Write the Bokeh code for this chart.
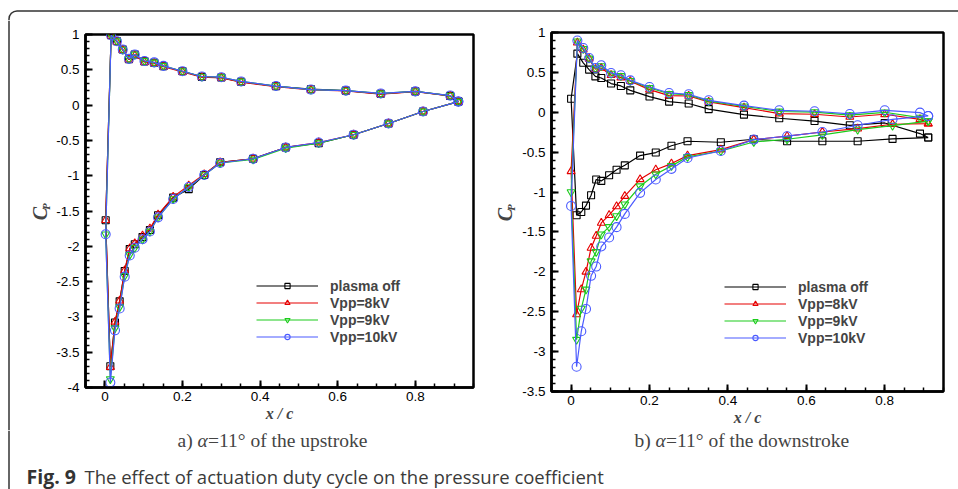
import math
from bokeh.plotting import figure
from bokeh.models import (Range1d, Label, Legend, LegendItem, BoxAnnotation, FixedTicker, Span)
from bokeh.layouts import column, row
from bokeh.embed import file_html
from bokeh.resources import INLINE

# ---------------- data ----------------
series_names = ["plasma off", "Vpp=8kV", "Vpp=9kV", "Vpp=10kV"]

x_upper = [0.016, 0.031, 0.046, 0.062, 0.077, 0.102, 0.127, 0.151, 0.200, 0.250,
           0.300, 0.351, 0.441, 0.531, 0.621, 0.711, 0.800, 0.890]
x_lower = [0.014, 0.026, 0.038, 0.051, 0.064, 0.077, 0.097, 0.116, 0.137, 0.176,
           0.216, 0.256, 0.297, 0.382, 0.466, 0.551, 0.641, 0.731, 0.820]
x_le_a = 0.002
x_le_b = 0.0
x_te = 0.911

# a) upstroke
a_upper_off = [0.99, 0.905, 0.787, 0.65, 0.716, 0.62, 0.60, 0.55, 0.48, 0.40, 0.39, 0.33, 0.266, 0.225, 0.205, 0.16, 0.195, 0.13]
a_upper_8 = [0.98, 0.895, 0.78, 0.645, 0.70, 0.61, 0.595, 0.545, 0.47, 0.395, 0.385, 0.325, 0.26, 0.215, 0.20, 0.155, 0.19, 0.13]
a_upper_9 = [0.99, 0.905, 0.787, 0.655, 0.716, 0.625, 0.605, 0.555, 0.48, 0.405, 0.395, 0.335, 0.27, 0.22, 0.205, 0.165, 0.195, 0.135]
a_upper_10 = [0.99, 0.905, 0.787, 0.655, 0.716, 0.625, 0.605, 0.555, 0.48, 0.405, 0.395, 0.335, 0.27, 0.22, 0.205, 0.165, 0.195, 0.135]
a_lower_off = [-3.70, -3.08, -2.78, -2.35, -2.04, -1.97, -1.87, -1.77, -1.56, -1.31, -1.19, -0.99, -0.81, -0.76, -0.60, -0.54, -0.42, -0.26, -0.09]
a_lower_8 = [-3.71, -3.07, -2.77, -2.34, -2.03, -1.96, -1.85, -1.75, -1.55, -1.30, -1.14, -0.98, -0.81, -0.76, -0.60, -0.53, -0.42, -0.26, -0.09]
a_lower_9 = [-3.88, -3.16, -2.86, -2.42, -2.12, -2.02, -1.90, -1.79, -1.59, -1.33, -1.16, -0.99, -0.82, -0.77, -0.61, -0.54, -0.42, -0.26, -0.09]
a_lower_10 = [-3.93, -3.19, -2.88, -2.43, -2.13, -2.02, -1.90, -1.79, -1.59, -1.33, -1.16, -0.99, -0.82, -0.76, -0.60, -0.53, -0.42, -0.26, -0.09]
a_le = [-1.63, -1.63, -1.83, -1.83]
a_te = [0.05, 0.05, 0.05, 0.05]

# b) downstroke
b_upper_off = [0.735, 0.62, 0.535, 0.45, 0.43, 0.36, 0.33, 0.275, 0.197, 0.134, 0.11, 0.04, -0.03, -0.075, -0.11, -0.163, -0.134, -0.267]
b_upper_8 = [0.873, 0.785, 0.67, 0.54, 0.555, 0.464, 0.435, 0.39, 0.284, 0.209, 0.204, 0.13, 0.059, -0.017, -0.025, -0.059, -0.025, -0.088]
b_upper_9 = [0.89, 0.795, 0.675, 0.55, 0.58, 0.485, 0.455, 0.395, 0.305, 0.232, 0.218, 0.14, 0.075, 0.01, 0.003, -0.035, 0.0, -0.066]
b_upper_10 = [0.90, 0.806, 0.68, 0.555, 0.589, 0.493, 0.464, 0.40, 0.317, 0.242, 0.226, 0.15, 0.084, 0.025, 0.013, -0.021, 0.025, -0.004]
b_lower_off = [-1.29, -1.25, -1.17, -1.04, -0.843, -0.86, -0.79, -0.72, -0.665, -0.543, -0.505, -0.42, -0.363, -0.376, -0.338, -0.363, -0.363, -0.363, -0.334]
b_lower_8 = [-2.535, -2.22, -2.0, -1.70, -1.55, -1.387, -1.29, -1.18, -1.05, -0.84, -0.72, -0.643, -0.543, -0.468, -0.342, -0.30, -0.247, -0.205, -0.15]
b_lower_9 = [-2.85, -2.46, -2.22, -1.867, -1.75, -1.53, -1.437, -1.30, -1.153, -0.927, -0.777, -0.672, -0.56, -0.485, -0.372, -0.338, -0.284, -0.217, -0.167]
b_lower_10 = [-3.19, -2.745, -2.465, -2.05, -1.934, -1.683, -1.57, -1.44, -1.274, -1.01, -0.843, -0.71, -0.573, -0.485, -0.342, -0.30, -0.247, -0.163, -0.088]
b_le = [0.17, -0.74, -1.0, -1.174]
b_te = [-0.317, -0.142, -0.11, -0.046]

x_tick_values = [0, 0.2, 0.4, 0.6, 0.8]
x_tick_labels = ["0", "0.2", "0.4", "0.6", "0.8"]
a_y_tick_values = [1, 0.5, 0, -0.5, -1, -1.5, -2, -2.5, -3, -3.5, -4]
a_y_tick_labels = ["1", "0.5", "0", "-0.5", "-1", "-1.5", "-2", "-2.5", "-3", "-3.5", "-4"]
b_y_tick_values = [1, 0.5, 0, -0.5, -1, -1.5, -2, -2.5, -3, -3.5]
b_y_tick_labels = ["1", "0.5", "0", "-0.5", "-1", "-1.5", "-2", "-2.5", "-3", "-3.5"]

# ---------------- styles ----------------
colors = ["#000000", "#e60000", "#1ccc1c", "#4a5aff"]
markers = ["square", "triangle", "inverted_triangle", "circle"]
msizes = [7, 8, 8, 9]
BORDER = "#333333"

TOP = 20        # height of top strip
ROWH = 410      # height of the plots row
BOT = 489 - TOP - ROWH
SA_W = 53
SB_W = 40


def loop(x_le, le, up, low, te):
    xs = [x_te] + x_upper[::-1] + [x_le] + x_lower + [x_te]
    ys = [te] + up[::-1] + [le] + low + [te]
    return xs, ys


def strip(w, h):
    s = figure(width=w, height=h, x_range=Range1d(0, w), y_range=Range1d(0, h),
               output_backend="svg", toolbar_location=None, min_border=0,
               x_axis_location=None, y_axis_location=None)
    s.frame_align = False
    s.xgrid.visible = False
    s.ygrid.visible = False
    s.outline_line_color = None
    return s


def panel(width, height, left, right, top, bottom, y0, y1, yvals, ylabels):
    p = figure(width=width, height=height, x_range=Range1d(-0.05, 0.95), y_range=Range1d(y0, y1),
               output_backend="svg", toolbar_location=None,
               min_border_left=left, min_border_right=right, min_border_top=top, min_border_bottom=bottom)
    p.frame_align = False
    p.xgrid.visible = False
    p.ygrid.visible = False
    p.outline_line_color = "black"
    p.outline_line_width = 2.5
    p.outline_line_alpha = 1.0
    minor_x = [round(-0.05 + 0.05 * i, 3) for i in range(21)]
    minor_y = [round(y0 + 0.1 * i, 2) for i in range(int(round((y1 - y0) / 0.1)) + 1)]
    p.xaxis.ticker = FixedTicker(ticks=x_tick_values, minor_ticks=minor_x)
    p.yaxis.ticker = FixedTicker(ticks=yvals, minor_ticks=minor_y)
    p.xaxis.major_label_overrides = dict(zip(x_tick_values, x_tick_labels))
    p.yaxis.major_label_overrides = dict(zip(yvals, ylabels))
    for ax in (p.xaxis[0], p.yaxis[0]):
        ax.major_tick_in = 7
        ax.major_tick_out = 0
        ax.minor_tick_in = 4
        ax.minor_tick_out = 0
        ax.axis_line_width = 2.5
        ax.major_tick_line_width = 2
        ax.minor_tick_line_width = 1.5
        ax.major_label_text_font = "Liberation Sans"
        ax.major_label_text_font_size = "13.5px"
        ax.major_label_text_color = "black"
    p.xaxis.major_label_standoff = 4
    p.yaxis.major_label_standoff = 6
    p.xaxis.axis_label = "x / c"
    p.xaxis.axis_label_text_font = "Liberation Serif"
    p.xaxis.axis_label_text_font_style = "bold italic"
    p.xaxis.axis_label_text_font_size = "16px"
    p.xaxis.axis_label_standoff = 1
    return p


def add_series(p, x_le, les, ups, lows, tes):
    items = []
    for i in range(4):
        xs, ys = loop(x_le, les[i], ups[i], lows[i], tes[i])
        lr = p.line(xs, ys, line_color=colors[i], line_width=1.2)
        sr = p.scatter(xs, ys, marker=markers[i], size=msizes[i], line_color=colors[i],
                       fill_alpha=0, line_width=1.1)
        items.append(LegendItem(label=series_names[i], renderers=[lr, sr]))
    return items


def add_legend(p, items, loc):
    lg = Legend(items=items, location=loc, padding=0, margin=0, spacing=0,
                glyph_width=62, glyph_height=13, label_height=17, label_standoff=12,
                border_line_alpha=0, background_fill_alpha=0,
                label_text_font="Liberation Sans", label_text_font_style="bold",
                label_text_font_size="14px")
    p.add_layout(lg)


def add_cp(s, cx, cy):
    s.add_layout(Label(x=cx, y=cy, text="C", angle=math.pi / 2,
                       text_font="Liberation Serif", text_font_style="bold italic",
                       text_font_size="20px", text_align="center", text_baseline="middle"))
    s.add_layout(Label(x=cx + 6.5, y=cy + 7, text="P", angle=math.pi / 2,
                       text_font="Liberation Serif", text_font_style="bold italic",
                       text_font_size="10.5px", text_align="center", text_baseline="middle"))


# ---------------- top strip (frame border) ----------------
top = strip(958, TOP)
top.add_layout(BoxAnnotation(left=8.5, right=5000, top=TOP - 10.5, bottom=-5000,
                             fill_alpha=0, line_color=BORDER, line_alpha=1.0,
                             line_width=1.5, border_radius=8))

# ---------------- left label strips ----------------
sa = strip(SA_W, ROWH)
sa.add_layout(Span(location=8.5, dimension="height", line_color=BORDER, line_width=1.5))
add_cp(sa, 39, ROWH - (213 - TOP))

sb = strip(SB_W, ROWH)
add_cp(sb, 25.5, ROWH - (214 - TOP))

# ---------------- panel a ----------------
pa = panel(479 - SA_W, ROWH, 83 - SA_W, 479 - 473, 34 - TOP, TOP + ROWH - 387, -4, 1,
           a_y_tick_values, a_y_tick_labels)
items_a = add_series(pa, x_le_a, a_le, [a_upper_off, a_upper_8, a_upper_9, a_upper_10],
                     [a_lower_off, a_lower_8, a_lower_9, a_lower_10], a_te)
add_legend(pa, items_a, (171, 42))

# ---------------- panel b ----------------
pb = panel(958 - 479 - SB_W, ROWH, 549 - 479 - SB_W, 958 - 943, 32 - TOP, TOP + ROWH - 391, -3.5, 1,
           b_y_tick_values, b_y_tick_labels)
items_b = add_series(pb, x_le_b, b_le, [b_upper_off, b_upper_8, b_upper_9, b_upper_10],
                     [b_lower_off, b_lower_8, b_lower_9, b_lower_10], b_te)
add_legend(pb, items_b, (173, 45))

# ---------------- bottom strip: sub-captions and caption ----------------
bot = strip(958, BOT)
bot.add_layout(Span(location=8.5, dimension="height", line_color=BORDER, line_width=1.5))
ysub = BOT - (440 - TOP - ROWH)
serif = dict(text_font="Liberation Serif", text_font_size="19.5px", text_baseline="middle")
bot.add_layout(Label(x=177, y=ysub, text="a)", **serif))
bot.add_layout(Label(x=197, y=ysub, text="\u03b1", text_font_style="italic", **serif))
bot.add_layout(Label(x=207.5, y=ysub, text="=11\u00b0 of the upstroke", **serif))
bot.add_layout(Label(x=634, y=ysub, text="b)", **serif))
bot.add_layout(Label(x=655, y=ysub, text="\u03b1", text_font_style="italic", **serif))
bot.add_layout(Label(x=665.5, y=ysub, text="=11\u00b0 of the downstroke", **serif))
ycap = BOT - (476 - TOP - ROWH)
bot.add_layout(Label(x=26, y=ycap, text="Fig. 9",
                     text_font="Open Sans", text_font_style="bold", text_font_size="19.5px",
                     text_color="#333333", text_baseline="middle"))
bot.add_layout(Label(x=84, y=ycap,
                     text="The effect of actuation duty cycle on the pressure coefficient",
                     text_font="Open Sans", text_font_size="18.5px",
                     text_color="#3a3a3a", text_baseline="middle"))

layout = column(top, row(sa, pa, sb, pb), bot)
open("out.html", "w").write(file_html(layout, INLINE))
